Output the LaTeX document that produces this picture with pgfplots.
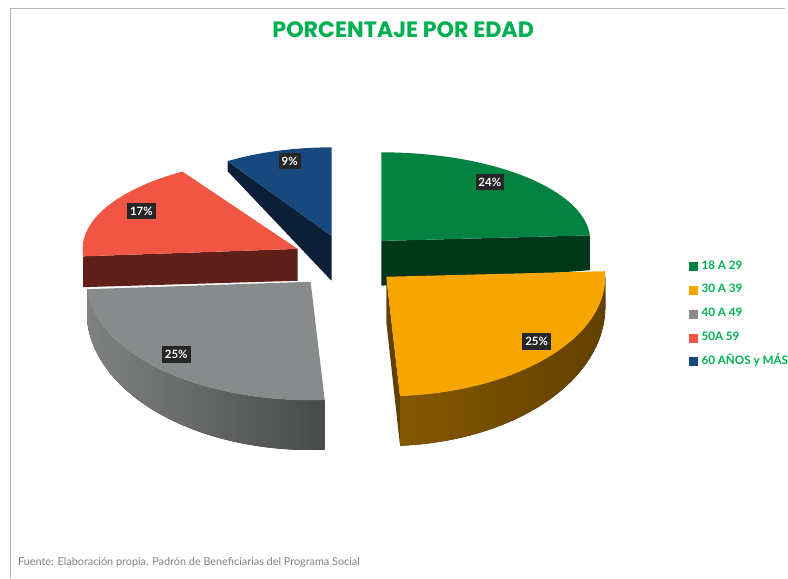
\documentclass[border=0pt]{standalone}
\usepackage{pgfplots}
\pgfplotsset{compat=1.18}
\usetikzlibrary{calc}
\usepackage{fontspec}
\setmainfont{Lato}
\newfontfamily\titlefont{Poppins}
\definecolor{cgreen}{RGB}{3,130,65}
\definecolor{cgreenS}{RGB}{0,54,26}
\definecolor{corange}{RGB}{247,166,0}
\definecolor{corangeS}{RGB}{98,64,0}
\definecolor{corangeL}{RGB}{135,90,0}
\definecolor{cgray}{RGB}{136,139,140}
\definecolor{cgrayL}{RGB}{128,130,130}
\definecolor{cgrayD}{RGB}{72,74,74}
\definecolor{cred}{RGB}{241,86,69}
\definecolor{credS}{RGB}{96,32,26}
\definecolor{cblue}{RGB}{23,73,127}
\definecolor{cblueS}{RGB}{11,31,54}
\definecolor{txtgreen}{RGB}{0,176,80}
\definecolor{lblbg}{RGB}{38,38,38}
\definecolor{framec}{RGB}{180,180,180}
\definecolor{footc}{RGB}{128,128,128}
% percentages per age group
\def\vA{24}\def\vB{25}\def\vC{25}\def\vD{17}\def\vE{9}
\pgfmathsetmacro\tA{0}
\pgfmathsetmacro\tB{\tA+3.6*\vA}
\pgfmathsetmacro\tC{\tB+3.6*\vB}
\pgfmathsetmacro\tD{\tC+3.6*\vC}
\pgfmathsetmacro\tE{\tD+3.6*\vD}
\begin{document}
\begin{tikzpicture}[lbl/.style={fill=lblbg, text=white, inner xsep=3pt, inner ysep=4pt, font=\bfseries\fontsize{11.5}{13}\selectfont}]
\begin{axis}[x=1pt,y=1pt,xmin=0,xmax=788,ymin=0,ymax=581,hide axis,clip=false,
  legend image code/.code={\fill[#1] (0pt,-4pt) rectangle (8pt,4pt);},
  legend style={at={(0.8782,0.549)}, anchor=north west, draw=none, fill=none,
    inner sep=0pt, row sep=14pt, column sep=4pt,
    font=\bfseries\fontsize{11.7}{13}\selectfont, text=txtgreen,
    nodes={inner sep=0pt, text height=8pt, text depth=2pt}},
  legend cell align=left]
% page area
\path (axis cs:0,0) rectangle (axis cs:788,581);
% frame
\draw[framec, line width=1pt] (axis cs:10.5,0) -- (axis cs:10.5,572) -- (axis cs:788,572);
% ---- blue slice (60 y mas)
\fill[cblueS] (axis cs:333,344) -- ++({195pt*sin(\tE)},{89pt*cos(\tE)}) -- ++(0pt,-10pt) -- (axis cs:333,299) -- cycle;
\fill[cblue] (axis cs:333,344) -- ++({195pt*sin(\tE)},{89pt*cos(\tE)}) arc[start angle={450-\tE}, end angle=90, x radius=195pt, y radius=89pt] -- cycle;
% ---- red slice (50 a 59)
\fill[credS] (axis cs:299,331) -- ++({216pt*sin(\tD)},{119pt*cos(\tD)}) -- ++(0pt,-31pt) -- (axis cs:299,299) -- cycle;
\fill[cred] (axis cs:299,331) -- ++({216pt*sin(\tD)},{119pt*cos(\tD)}) arc[start angle={90-\tD}, end angle=-180, x radius=216pt, y radius=119pt] arc[start angle=180, end angle={450-\tE}, x radius=216pt, y radius=92pt] -- cycle;
% ---- green slice (18 a 29)
\fill[cgreenS] (axis cs:383,339) -- ++({210pt*sin(\tB)},{89pt*cos(\tB)}) -- ++(0pt,-35pt) -- (axis cs:383,294) -- cycle;
\fill[cgreen] (axis cs:383,339) -- ++(0pt,89pt) arc[start angle=90, end angle={90-\tB}, x radius=210pt, y radius=89pt] -- cycle;
% ---- gray slice (40 a 49)
\fill[left color=cgrayL, right color=cgrayD] (axis cs:312,298) ++({225pt*sin(\tC)},{119pt*cos(\tC)}) arc[start angle={90-\tC}, end angle={90-\tD}, x radius=225pt, y radius=119pt] -- ($(axis cs:312,268)+({225pt*sin(\tD)},{139pt*cos(\tD)})$) arc[start angle={90-\tD}, end angle={90-\tC}, x radius=225pt, y radius=139pt] -- cycle;
\fill[cgray] (axis cs:312,298) -- ++({225pt*sin(\tC)},{119pt*cos(\tC)}) arc[start angle={90-\tC}, end angle={90-\tD}, x radius=225pt, y radius=119pt] -- cycle;
% ---- orange slice (30 a 39)
\fill[corangeS] (axis cs:388,303) -- ++({220pt*sin(\tC)},{120pt*cos(\tC)}) -- ++(0pt,-50pt) -- (axis cs:388,258) -- cycle;
\fill[left color=corangeL, right color=corangeS] (axis cs:388,303) ++(220pt,0pt) arc[start angle=0, end angle={90-\tC}, x radius=220pt, y radius=120pt] -- ($(axis cs:388,273)+({220pt*sin(\tC)},{140pt*cos(\tC)})$) arc[start angle={90-\tC}, end angle=0, x radius=220pt, y radius=140pt] -- cycle;
\fill[corange] (axis cs:388,303) -- ++({220pt*sin(\tB)},{89pt*cos(\tB)}) arc[start angle={90-\tB}, end angle=0, x radius=220pt, y radius=89pt] arc[start angle=0, end angle={90-\tC}, x radius=220pt, y radius=120pt] -- cycle;
% ---- data labels
\node[lbl] at (axis cs:492,398) {\vA\%};
\node[lbl] at (axis cs:539,238) {\vB\%};
\node[lbl] at (axis cs:177,225) {\vC\%};
\node[lbl] at (axis cs:142,369) {\vD\%};
\node[lbl] at (axis cs:291,419) {\vE\%};
% ---- title and source
\node[font=\titlefont\bfseries\fontsize{22.3}{26}\selectfont, text=txtgreen] at (axis cs:405,551) {PORCENTAJE POR EDAD};
\node[anchor=west, font=\fontsize{10.9}{13}\selectfont, text=footc, inner sep=0pt] at (axis cs:18,16) {Fuente: Elaboración propia. Padrón de Beneficiarias del Programa Social};
% ---- legend
\addlegendimage{cgreen}\addlegendentry{18 A 29}
\addlegendimage{corange}\addlegendentry{30 A 39}
\addlegendimage{cgray}\addlegendentry{40 A 49}
\addlegendimage{cred}\addlegendentry{50A 59}
\addlegendimage{cblue}\addlegendentry{60 AÑOS y MÁS}
\end{axis}
\end{tikzpicture}
\end{document}
